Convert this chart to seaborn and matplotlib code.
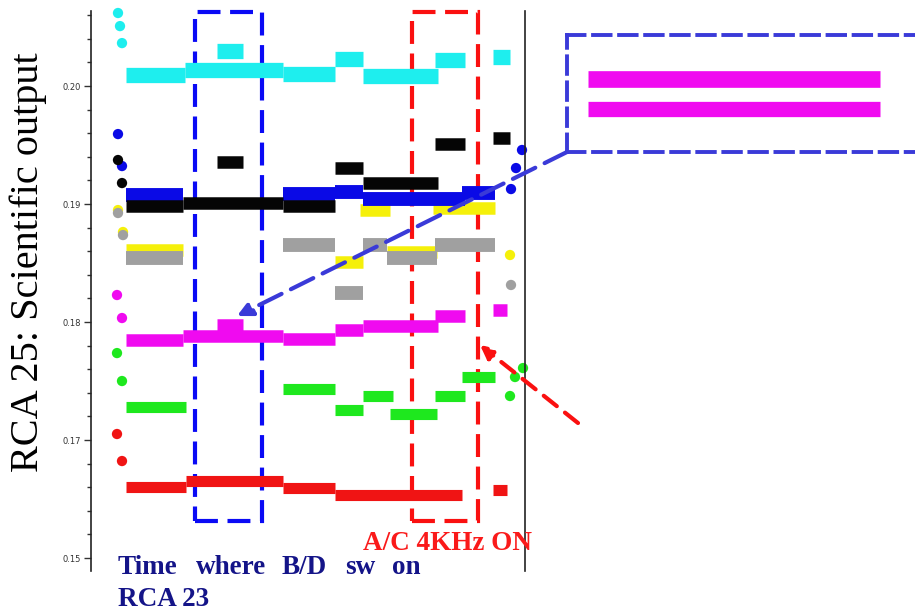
import numpy as np
import pandas as pd
import seaborn as sns
import matplotlib
matplotlib.use("Agg")
import matplotlib.pyplot as plt
from matplotlib.patches import Rectangle
from matplotlib.ticker import MultipleLocator, FixedLocator, FixedFormatter

# step levels per channel: (start time, end time, output level)
red_segments = [(35, 95, 0.16602), (95, 192, 0.16653), (192, 244, 0.16593),
                (244, 371, 0.16534), (402, 416, 0.16576)]
green_segments = [(35, 95, 0.17280), (192, 244, 0.17432), (244, 272, 0.17254),
                  (272, 302, 0.17373), (299, 346, 0.17220), (344, 374, 0.17373),
                  (371, 404, 0.17534)]
magenta_segments = [(35, 92, 0.17847), (92, 192, 0.17881), (126, 152, 0.17975),
                    (192, 244, 0.17856), (244, 272, 0.17932), (272, 347, 0.17966),
                    (344, 374, 0.18051), (402, 416, 0.18102)]
yellow_segments = [(35, 92, 0.18610), (244, 272, 0.18508), (269, 299, 0.18949),
                   (296, 346, 0.18593), (342, 404, 0.18966)]
gray_segments = [(35, 92, 0.18542), (192, 244, 0.18653), (244, 272, 0.18246),
                 (272, 296, 0.18653), (296, 346, 0.18542), (344, 404, 0.18653)]
blue_segments = [(35, 92, 0.19076), (192, 244, 0.19085), (244, 272, 0.19102),
                 (272, 374, 0.19042), (371, 404, 0.19093)]
black_segments = [(35, 92, 0.18983), (92, 192, 0.19008), (126, 152, 0.19356),
                  (192, 244, 0.18983), (244, 272, 0.19305), (272, 347, 0.19178),
                  (344, 374, 0.19508), (402, 419, 0.19559)]
cyan_segments = [(35, 94, 0.20093), (94, 192, 0.20136), (126, 152, 0.20297),
                 (192, 244, 0.20102), (244, 272, 0.20229), (272, 347, 0.20085),
                 (344, 374, 0.20220), (402, 419, 0.20246)]

# isolated start-up / transition readings: (time, level)
red_points = [(26, 0.17051), (31, 0.16822)]
green_points = [(26, 0.17737), (31, 0.17500), (419, 0.17373), (424, 0.17534), (432, 0.17610)]
magenta_points = [(26, 0.18229), (31, 0.18034)]
yellow_points = [(27, 0.18949), (32, 0.18763), (419, 0.18568)]
gray_points = [(27, 0.18924), (32, 0.18737), (420, 0.18314)]
blue_points = [(27, 0.19593), (31, 0.19322), (420, 0.19127), (425, 0.19305), (431, 0.19458)]
black_points = [(27, 0.19373), (31, 0.19178)]
cyan_points = [(27, 0.20619), (29, 0.20508), (31, 0.20364)]

channels = ["red", "green", "magenta", "yellow", "gray", "blue", "black", "cyan"]
colors = {"red": "#f01414", "green": "#1ee81e", "magenta": "#f00af0", "yellow": "#f5f00a",
          "gray": "#a0a0a0", "blue": "#0a0ae6", "black": "#050505", "cyan": "#1eeeee"}
widths = {"red": 8, "green": 8, "magenta": 9, "yellow": 9, "gray": 10,
          "blue": 10, "black": 9, "cyan": 11}
segments = {"red": red_segments, "green": green_segments, "magenta": magenta_segments,
            "yellow": yellow_segments, "gray": gray_segments, "blue": blue_segments,
            "black": black_segments, "cyan": cyan_segments}
points = {"red": red_points, "green": green_points, "magenta": magenta_points,
          "yellow": yellow_points, "gray": gray_points, "blue": blue_points,
          "black": black_points, "cyan": cyan_points}

y_ticks = [0.16, 0.17, 0.18, 0.19, 0.20]
y_tick_labels = ["0.15", "0.17", "0.18", "0.19", "0.20"]

sns.set_theme(style="white")
plt.rcParams["font.family"] = ["DejaVu Sans"]

fig = plt.figure(figsize=(9.15, 6.13), dpi=100)
ax = fig.add_axes([91 / 915, 42 / 613, 434 / 915, 560 / 613])

for ch in channels:
    rows = []
    for i, (x0, x1, lev) in enumerate(segments[ch]):
        rows.append({"time": x0, "value": lev, "seg": i})
        rows.append({"time": x1, "value": lev, "seg": i})
    df = pd.DataFrame(rows)
    sns.lineplot(data=df, x="time", y="value", units="seg", estimator=None, sort=False,
                 color=colors[ch], lw=widths[ch], solid_capstyle="butt", ax=ax, legend=False)
    pts = pd.DataFrame(points[ch], columns=["time", "value"])
    sns.scatterplot(data=pts, x="time", y="value", color=colors[ch], s=55,
                    edgecolor="none", ax=ax, legend=False, clip_on=False)

ax.set_xlim(0, 434)
ax.set_ylim(0.15890, 0.20636)
ax.set_xlabel("")
ax.set_ylabel("")
ax.set_xticks([])
ax.yaxis.set_major_locator(FixedLocator(y_ticks))
ax.yaxis.set_major_formatter(FixedFormatter(y_tick_labels))
ax.yaxis.set_minor_locator(MultipleLocator(0.002))
ax.tick_params(axis="y", which="both", left=True, direction="out", colors="#333333",
               labelsize=6, width=1)
ax.tick_params(axis="y", which="major", length=5, pad=2)
ax.tick_params(axis="y", which="minor", length=3)
for side in ["top", "bottom"]:
    ax.spines[side].set_visible(False)
for side in ["left", "right"]:
    ax.spines[side].set_color("#222222")
    ax.spines[side].set_linewidth(1.2)

# highlighted time windows
ax.add_patch(Rectangle((104, 0.16314), 67, 0.20627 - 0.16314, fill=False, ec="#0a0af5",
                       lw=3, ls=(0, (5.5, 2.3)), clip_on=False))
ax.add_patch(Rectangle((321, 0.16314), 66, 0.20627 - 0.16314, fill=False, ec="#fa1010",
                       lw=3, ls=(0, (5.5, 2.3)), clip_on=False))

# zoom inset of the magenta levels
ins = fig.add_axes([567 / 915, 1 - 152 / 613, 348 / 915, 117 / 613])
mag_hi = magenta_segments[2][2]
mag_lo = magenta_segments[1][2]
for lev, lw in [(mag_hi, 12), (mag_lo, 11)]:
    d = pd.DataFrame({"time": [126, 152], "value": [lev, lev]})
    sns.lineplot(data=d, x="time", y="value", color=colors["magenta"], lw=lw,
                 solid_capstyle="butt", ax=ins, legend=False)
px = (mag_hi - mag_lo) / 30.0
ins.set_ylim(mag_lo - 43 * px, mag_hi + 44 * px)
sx = 26 / 292
ins.set_xlim(126 - 21 * sx, 152 + 35 * sx)
ins.set_xticks([])
ins.set_yticks([])
ins.set_xlabel("")
ins.set_ylabel("")
ins.patch.set_alpha(0)
ins.spines["right"].set_visible(False)
for side in ["left", "top", "bottom"]:
    ins.spines[side].set_color("#3a3ad8")
    ins.spines[side].set_linewidth(2.8)
    ins.spines[side].set_linestyle((0, (4.5, 2.2)))

# arrows
ax.annotate("", xy=(146, 0.18051), xycoords="data", xytext=(567, 613 - 152),
            textcoords="figure pixels",
            arrowprops=dict(arrowstyle="-|>", color="#3a3ad8", lw=3, ls=(0, (6, 2.5)),
                            mutation_scale=22, shrinkA=0, shrinkB=0))
ax.annotate("", xy=(389, 0.17805), xycoords="data", xytext=(578, 613 - 423),
            textcoords="figure pixels",
            arrowprops=dict(arrowstyle="-|>", color="#fa1010", lw=3, ls=(0, (4, 2.5)),
                            mutation_scale=20, shrinkA=0, shrinkB=0))

# texts
fig.text(28 / 915, 1 - 262 / 613, "RCA 25: Scientific output", rotation=90,
         ha="center", va="center", fontsize=29, family=["Liberation Serif"], color="black")
for word, x in [("Time", 118), ("where", 196), ("B/D", 282), ("sw", 345), ("on", 392)]:
    fig.text(x / 915, 1 - 567 / 613, word, ha="left", va="center", fontsize=19.5,
             fontweight="bold", family=["Liberation Serif"], color="#141488")
fig.text(118 / 915, 1 - 599 / 613, "RCA 23", ha="left", va="center", fontsize=19.5,
         fontweight="bold", family=["Liberation Serif"], color="#141488")
fig.text(363 / 915, 1 - 544 / 613, "A/C 4KHz ON", ha="left", va="center", fontsize=19.5,
         fontweight="bold", family=["Liberation Serif"], color="#fa1a1a")

fig.savefig("out.png", dpi=100)
